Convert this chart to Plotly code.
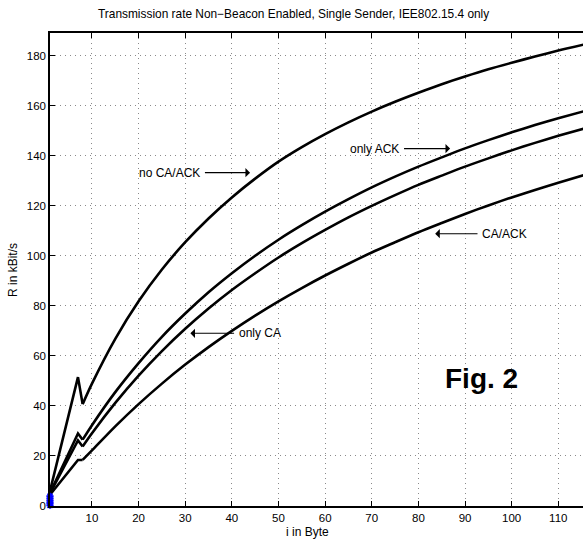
import plotly.graph_objects as go

# Payload size i in Byte
i_bytes = [1, 7, 8, 10, 15, 20, 25, 30, 35, 40, 45, 50, 55, 60, 65, 70, 75, 80,
           85, 90, 95, 100, 105, 110, 116]

# Transmission rate R in kBit/s
no_ca_ack = [6.0, 51.5, 40.7, 48.9, 66.8, 81.8, 94.5, 105.4, 114.9, 123.3, 130.8,
             137.6, 143.4, 148.6, 153.3, 157.6, 161.5, 165.1, 168.5, 171.6, 174.5,
             177.1, 179.6, 182.0, 184.6]
only_ack = [5.2, 29.0, 26.5, 32.3, 45.5, 57.1, 67.6, 76.9, 85.4, 93.0, 100.0,
            106.4, 112.2, 117.6, 122.6, 127.3, 131.6, 135.6, 139.3, 142.9, 146.2,
            149.3, 152.2, 154.9, 158.0]
only_ca = [5.0, 26.2, 23.8, 29.1, 41.2, 52.1, 61.9, 70.8, 78.9, 86.3, 93.0, 99.3,
           105.0, 110.3, 115.3, 119.9, 124.2, 128.3, 132.0, 135.6, 138.9, 142.1,
           145.1, 147.9, 151.1]
ca_ack = [4.5, 18.4, 18.4, 22.2, 31.8, 40.7, 48.9, 56.5, 63.5, 70.0, 76.1, 81.8,
          87.1, 92.1, 96.8, 101.3, 105.4, 109.4, 113.1, 116.7, 120.1, 123.3, 126.3,
          129.2, 132.5]

# blue markers at the origin
blue_x = [1, 1, 1, 1, 1]
blue_y = [0.3, 1.2, 2.1, 3.0, 3.9]

x_ticks = [10, 20, 30, 40, 50, 60, 70, 80, 90, 100, 110]
y_ticks = [0, 20, 40, 60, 80, 100, 120, 140, 160, 180]

FONT = "Liberation Sans, Arial, Helvetica, sans-serif"
KINK = 3  # index where the smooth part begins (i = 8)

fig = go.Figure()
for ys in (no_ca_ack, only_ack, only_ca, ca_ack):
    # straight segments up to the step at i = 7/8
    fig.add_trace(go.Scatter(x=i_bytes[:KINK], y=ys[:KINK], mode="lines",
                             line=dict(color="black", width=2.6),
                             showlegend=False))
    # smooth part
    fig.add_trace(go.Scatter(x=i_bytes[KINK - 1:], y=ys[KINK - 1:], mode="lines",
                             line=dict(color="black", width=2.6, shape="spline",
                                       smoothing=0.8),
                             showlegend=False))
fig.add_trace(go.Scatter(x=blue_x, y=blue_y, mode="markers",
                         marker=dict(symbol="asterisk-open", size=6, color="blue",
                                     line=dict(color="blue", width=1.8)),
                         cliponaxis=False, showlegend=False))

W, H = 583, 540
L, T, B = 50, 33, 34
pw = W - L
ph = H - T - B


def px(xp):
    return (xp - L) / pw


def py(yp):
    return (H - B - yp) / ph


ann = []
# arrows (data coords): tip x, tip y, tail x, tail y
arrows = [
    (43.9, 133.2, 33.9, 133.2),   # no CA/ACK
    (86.8, 142.8, 76.6, 142.8),   # only ACK
    (31.1, 69.0, 40.8, 69.0),     # only CA
    (83.6, 108.8, 93.0, 108.8),   # CA/ACK
]
for (x, y, ax, ay) in arrows:
    ann.append(dict(x=x, y=y, ax=ax, ay=ay, xref="x", yref="y", axref="x",
                    ayref="y", text="", showarrow=True, arrowhead=1,
                    arrowsize=1.4, arrowwidth=1.1, arrowcolor="black"))

labels = [
    ("no CA/ACK", 33.5, 133.2, "right"),
    ("only ACK", 76.3, 142.8, "right"),
    ("only CA", 41.1, 69.0, "left"),
    ("CA/ACK", 93.3, 108.8, "left"),
]
for (t, x, y, xa) in labels:
    ann.append(dict(x=x, y=y, xref="x", yref="y", text=t, showarrow=False,
                    xanchor=xa, yanchor="middle",
                    font=dict(family=FONT, size=12, color="black")))

ann.append(dict(x=px(481.5), y=py(378), xref="paper", yref="paper",
                text="<b>Fig. 2</b>", showarrow=False, xanchor="center",
                yanchor="middle", font=dict(family=FONT, size=28, color="black")))
ann.append(dict(x=px(293.5), y=py(14), xref="paper", yref="paper",
                text="Transmission rate Non\u2212Beacon Enabled, Single Sender, IEE802.15.4 only",
                showarrow=False, xanchor="center", yanchor="middle",
                font=dict(family=FONT, size=11.9, color="black")))
ann.append(dict(x=px(307), y=py(532), xref="paper", yref="paper",
                text="i in Byte", showarrow=False, xanchor="center",
                yanchor="middle", font=dict(family=FONT, size=12, color="black")))
ann.append(dict(x=px(13), y=py(270), xref="paper", yref="paper",
                text="R in kBit/s", showarrow=False, xanchor="center",
                yanchor="middle", textangle=-90,
                font=dict(family=FONT, size=12, color="black")))

fig.update_layout(
    width=W, height=H,
    margin=dict(l=L, r=0, t=T, b=B),
    paper_bgcolor="white", plot_bgcolor="white",
    font=dict(family=FONT, size=11, color="black"),
    annotations=ann,
    showlegend=False,
)
grid = dict(showgrid=True, gridcolor="#8a8a8a", griddash="1px,4px", gridwidth=1)
fig.update_xaxes(range=[1, 115.3], tickvals=x_ticks, ticks="inside", ticklen=5,
                 tickcolor="black", showline=True, linecolor="black", linewidth=1.5,
                 mirror="ticks", zeroline=False, tickfont=dict(size=11.5), **grid)
fig.update_yaxes(range=[0, 189], tickvals=y_ticks, ticks="inside", ticklen=5,
                 tickcolor="black", showline=True, linecolor="black", linewidth=1.5,
                 mirror=False, zeroline=False, tickfont=dict(size=11.5), **grid)

fig.write_html("out.html")
